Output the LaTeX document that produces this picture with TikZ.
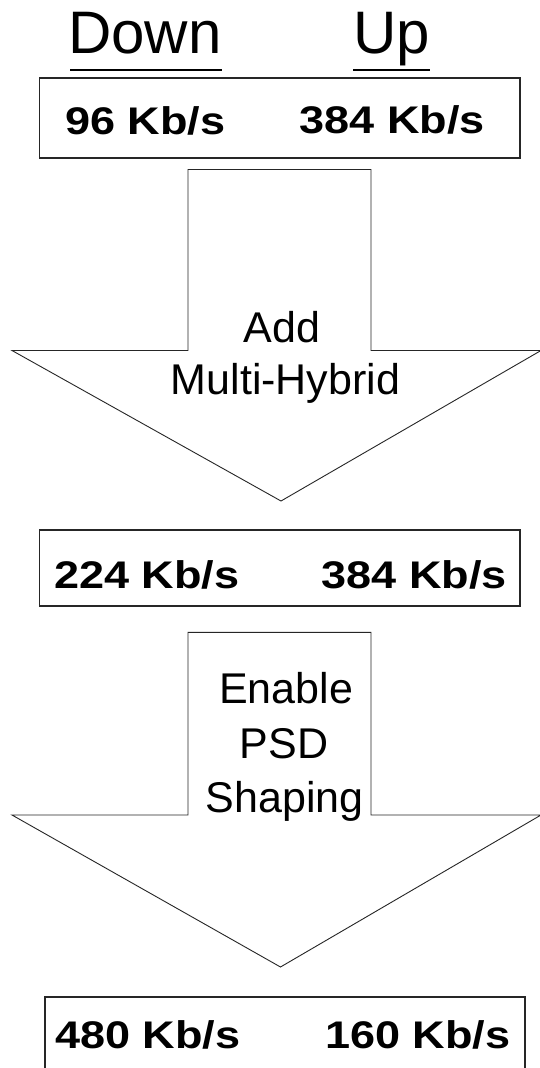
\documentclass[tikz,border=0pt]{standalone}
\usepackage{fontspec}
\setmainfont{Liberation Sans}
\newfontfamily\widebold[FakeStretch=1.17]{Liberation Sans}
\tikzset{
  frame/.style={draw=black!85, line width=1.2pt, fill=white},
  bigarrow/.style={draw=black!85, line width=0.9pt, fill=white, line join=miter},
  rate/.style={font=\widebold\bfseries\fontsize{38.5}{40}\selectfont, inner sep=0pt, anchor=base west},
  hdr/.style={font=\fontsize{60}{64}\selectfont, inner sep=0pt, anchor=base},
  lbl/.style={font=\fontsize{43}{50}\selectfont, inner sep=0pt, anchor=base},
  uline/.style={line width=1.6pt},
}
\begin{document}
\begin{tikzpicture}[x=1pt,y=-1pt]
\useasboundingbox (0,0) rectangle (539,1068);
\fill[white] (0,0) rectangle (539,1068);
% headers
\node[hdr] (down) at (145,53) {Down};
\node[hdr] (up) at (391.5,53) {Up};
\draw[uline] (70,70) -- (222,70);
\draw[uline] (353,70) -- (430,70);
% box 1
\draw[frame] (39.5,78) rectangle (520,158);
\node[rate] (d1) at (65,134) {96 Kb/s};
\node[rate] (u1) at (299.5,133) {384 Kb/s};
% arrow 1
\draw[bigarrow] (188,169.5) -- (371,169.5) -- (371,350.5) -- (541,350.5)
  -- (281,501) -- (12,350.5) -- (188,350.5) -- cycle;
\node[lbl] (a1) at (282,342) {Add};
\node[lbl] (a2) at (285.5,394) {Multi-Hybrid};
% box 2
\draw[frame] (39.5,530) rectangle (520,606);
\node[rate] (d2) at (54,588) {224 Kb/s};
\node[rate] (u2) at (321.5,588) {384 Kb/s};
% arrow 2
\draw[bigarrow] (188,632.3) -- (371,632.3) -- (371,815) -- (541,815)
  -- (280.5,967) -- (12,815) -- (188,815) -- cycle;
\node[lbl] (e1) at (286,703) {Enable};
\node[lbl] (e2) at (284,758) {PSD};
\node[lbl] (e3) at (284.5,812) {Shaping};
% box 3
\draw[frame] (45,997) rectangle (525,1090);
\node[rate] (d3) at (55,1048) {480 Kb/s};
\node[rate] (u3) at (325,1048) {160 Kb/s};
\end{tikzpicture}
\end{document}
